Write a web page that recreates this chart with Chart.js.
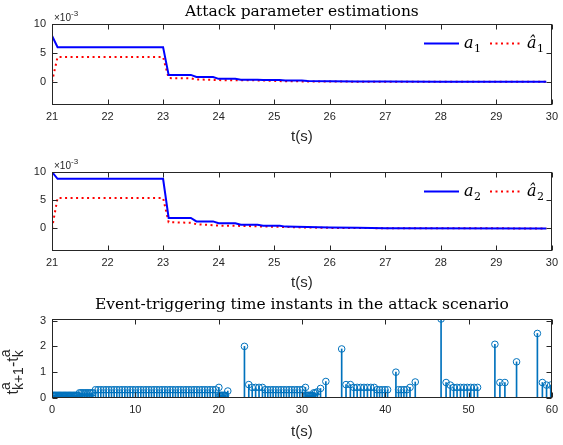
<!DOCTYPE html>
<html>
<head>
<meta charset="utf-8">
<script src="https://cdn.jsdelivr.net/npm/chart.js@4.4.0/dist/chart.umd.min.js"></script>
<style>
  html, body { margin: 0; padding: 0; background: #fff; }
  #wrap { position: relative; width: 563px; height: 445px; overflow: hidden; }
  canvas { position: absolute; left: 0; }
</style>
</head>
<body>
<div id="wrap">
  <canvas id="estChart1" width="563" height="150" style="top:0px"></canvas>
  <canvas id="estChart2" width="563" height="145" style="top:150px"></canvas>
  <canvas id="eventChart" width="563" height="150" style="top:295px"></canvas>
</div>
<script>
// ---- tick labels
const estXTicks = [21, 22, 23, 24, 25, 26, 27, 28, 29, 30];
const estYTicks = [0, 5, 10];
const eventXTicks = [0, 10, 20, 30, 40, 50, 60];
const eventYTicks = [0, 1, 2, 3];

// ---- attack parameter estimations (values in units of 1e-3)
const a1Time = [21.0, 21.1, 23.0, 23.1, 23.5, 23.6, 23.9, 24.0, 24.3, 24.4, 24.7, 24.8, 25.1, 25.2, 25.5, 25.6, 26.0, 26.5, 27.0, 28.0, 29.9];
const a1Vals = [8.0, 6.0, 6.0, 1.2, 1.2, 0.83, 0.83, 0.52, 0.52, 0.38, 0.38, 0.3, 0.3, 0.22, 0.22, 0.16, 0.12, 0.08, 0.06, 0.03, 0.0];
const a1hatTime = [21.0, 21.1, 23.0, 23.1, 23.5, 23.6, 24.0, 24.8, 25.2, 26.0, 27.0, 29.9];
const a1hatVals = [0.0, 4.3, 4.3, 0.65, 0.6, 0.42, 0.3, 0.25, 0.1, 0.05, 0.02, 0.0];

const a2Time = [21.0, 21.1, 23.0, 23.1, 23.5, 23.6, 23.9, 24.0, 24.3, 24.4, 24.7, 24.8, 25.1, 25.2, 25.6, 26.0, 26.5, 27.0, 29.9];
const a2Vals = [10.0, 8.8, 8.8, 1.85, 1.85, 1.25, 1.25, 0.92, 0.92, 0.65, 0.65, 0.47, 0.47, 0.32, 0.25, 0.15, 0.1, 0.05, 0.0];
const a2hatTime = [21.0, 21.1, 23.0, 23.1, 23.5, 23.6, 24.0, 24.4, 24.8, 25.5, 26.0, 27.0, 29.9];
const a2hatVals = [0.0, 5.4, 5.4, 1.1, 1.0, 0.75, 0.5, 0.45, 0.35, 0.18, 0.1, 0.04, 0.0];

// ---- event-triggering instants: time and inter-event gap
const eventTime = [
  0.1, 0.2, 0.3, 0.4, 0.5, 0.6, 0.7, 0.8, 0.9, 1.0, 1.1, 1.2, 1.3, 1.4, 1.5, 1.6,
  1.7, 1.8, 1.9, 2.0, 2.1, 2.2, 2.3, 2.4, 2.5, 2.6, 2.7, 2.8, 2.9, 3.0, 3.1,
  3.3, 3.5, 3.7, 3.9, 4.1, 4.3, 4.5, 4.7, 4.9,
  5.22, 5.54, 5.86, 6.18, 6.5, 6.82, 7.14, 7.46, 7.78, 8.1, 8.42, 8.74, 9.06, 9.38,
  9.7, 10.02, 10.34, 10.66, 10.98, 11.3, 11.62, 11.94, 12.26, 12.58, 12.9, 13.22,
  13.54, 13.86, 14.18, 14.5, 14.82, 15.14, 15.46, 15.78, 16.1, 16.42, 16.74, 17.06,
  17.38, 17.7, 18.02, 18.34, 18.66, 18.98, 19.3, 19.62,
  20.03, 20.13, 20.23, 20.33, 20.43, 20.53, 20.63, 20.73, 20.83, 21.1,
  23.1, 23.62, 24.03, 24.44, 24.85, 25.26,
  25.58, 25.9, 26.22, 26.54, 26.86, 27.18, 27.5, 27.82, 28.14, 28.46, 28.78, 29.1,
  29.42, 29.74, 30.06,
  30.42, 30.52, 30.62, 30.72, 30.82, 30.92, 31.02, 31.12, 31.22, 31.42, 31.62, 31.86,
  32.23, 32.87, 34.77, 35.29, 35.81,
  36.22, 36.63, 37.04, 37.45, 37.86, 38.27, 38.68,
  39.0, 39.32, 39.64, 39.96, 40.28,
  41.28, 41.6, 41.92, 42.24, 42.56, 42.97, 43.6, 46.7, 47.3, 47.8,
  48.21, 48.62, 49.03, 49.44, 49.85, 50.26, 50.67, 51.08,
  53.16, 53.76, 54.36, 55.76, 58.26, 58.86, 59.36, 59.86
];
const eventGap = [
  0.1, 0.1, 0.1, 0.1, 0.1, 0.1, 0.1, 0.1, 0.1, 0.1, 0.1, 0.1, 0.1, 0.1, 0.1, 0.1,
  0.1, 0.1, 0.1, 0.1, 0.1, 0.1, 0.1, 0.1, 0.1, 0.1, 0.1, 0.1, 0.1, 0.1, 0.1,
  0.2, 0.2, 0.2, 0.2, 0.2, 0.2, 0.2, 0.2, 0.2,
  0.32, 0.32, 0.32, 0.32, 0.32, 0.32, 0.32, 0.32, 0.32, 0.32, 0.32, 0.32, 0.32, 0.32,
  0.32, 0.32, 0.32, 0.32, 0.32, 0.32, 0.32, 0.32, 0.32, 0.32, 0.32, 0.32,
  0.32, 0.32, 0.32, 0.32, 0.32, 0.32, 0.32, 0.32, 0.32, 0.32, 0.32, 0.32,
  0.32, 0.32, 0.32, 0.32, 0.32, 0.32, 0.32, 0.32,
  0.41, 0.1, 0.1, 0.1, 0.1, 0.1, 0.1, 0.1, 0.1, 0.27,
  2.0, 0.52, 0.41, 0.41, 0.41, 0.41,
  0.32, 0.32, 0.32, 0.32, 0.32, 0.32, 0.32, 0.32, 0.32, 0.32, 0.32, 0.32,
  0.32, 0.32, 0.32,
  0.41, 0.1, 0.1, 0.1, 0.1, 0.1, 0.1, 0.1, 0.1, 0.2, 0.2, 0.24,
  0.37, 0.64, 1.9, 0.52, 0.52,
  0.41, 0.41, 0.41, 0.41, 0.41, 0.41, 0.41,
  0.32, 0.32, 0.32, 0.32, 0.32,
  1.0, 0.32, 0.32, 0.32, 0.32, 0.41, 0.62, 3.06, 0.6, 0.5,
  0.41, 0.41, 0.41, 0.41, 0.41, 0.41, 0.41, 0.41,
  2.08, 0.6, 0.6, 1.4, 2.5, 0.6, 0.5, 0.5
];

const axisColor = "#262626";
const tickFont = { family: "'Liberation Sans', Arial, sans-serif", size: 11 };
const labelFont = { family: "'Liberation Sans', Arial, sans-serif", size: 15 };

const toPoints = (xs, ys) => xs.map((x, i) => ({ x: x, y: ys[i] }));

// draws box, inward ticks, title, x10^-3 note, legend and rotated y label
const decor = {
  id: "decor",
  afterDraw(chart, args, o) {
    const { ctx, chartArea: a, scales } = chart;
    const L = Math.floor(a.left) + 0.5, R = Math.ceil(a.right) - 0.5;
    const T = Math.floor(a.top) + 0.5, B = Math.ceil(a.bottom) - 0.5;
    ctx.save();
    ctx.strokeStyle = axisColor;
    ctx.lineWidth = 1;
    ctx.strokeRect(L, T, R - L, B - T);
    ctx.beginPath();
    scales.x.ticks.forEach((t) => {
      const px = Math.round(scales.x.getPixelForValue(t.value)) + 0.5;
      ctx.moveTo(px, B); ctx.lineTo(px, B - 5);
      ctx.moveTo(px, T); ctx.lineTo(px, T + 5);
    });
    scales.y.ticks.forEach((t) => {
      const py = Math.round(scales.y.getPixelForValue(t.value)) + 0.5;
      ctx.moveTo(L, py); ctx.lineTo(L + 5, py);
      ctx.moveTo(R, py); ctx.lineTo(R - 5, py);
    });
    ctx.stroke();

    if (o.title) {
      ctx.fillStyle = "#000";
      ctx.font = "15.5px 'DejaVu Serif'";
      ctx.textAlign = "center";
      ctx.textBaseline = "middle";
      ctx.fillText(o.title, (a.left + a.right) / 2, o.titleY);
    }
    if (o.exponent) {
      ctx.fillStyle = axisColor;
      ctx.textAlign = "left";
      ctx.textBaseline = "alphabetic";
      ctx.font = "10px 'Liberation Sans'";
      ctx.fillText("\u00d710", a.left + 2, a.top - 3);
      const w = ctx.measureText("\u00d710").width;
      ctx.font = "8px 'Liberation Sans'";
      ctx.fillText("-3", a.left + 2 + w, a.top - 8);
    }
    if (o.legend) {
      const y = a.top + o.legend.dy;
      ctx.lineWidth = 2;
      ctx.strokeStyle = "#0000ff";
      ctx.beginPath(); ctx.moveTo(424, y); ctx.lineTo(459, y); ctx.stroke();
      ctx.strokeStyle = "#ff0000";
      ctx.setLineDash([2, 3.5]);
      ctx.beginPath(); ctx.moveTo(490, y); ctx.lineTo(522, y); ctx.stroke();
      ctx.setLineDash([]);
      ctx.fillStyle = "#000";
      ctx.textAlign = "left";
      ctx.textBaseline = "alphabetic";
      ctx.font = "italic 16px 'DejaVu Serif'";
      ctx.fillText("a", 464, y + 4.5);
      ctx.fillText("\u00e2", 527, y + 4.5);
      ctx.font = "11px 'DejaVu Serif'";
      ctx.fillText(o.legend.sub, 474, y + 8);
      ctx.fillText(o.legend.sub, 537, y + 8);
    }
    if (o.ylabel) {
      const cy = (a.top + a.bottom) / 2;
      ctx.translate(18, cy + 36);
      ctx.rotate(-Math.PI / 2);
      ctx.fillStyle = axisColor;
      ctx.textAlign = "left";
      ctx.textBaseline = "alphabetic";
      const big = "16px 'Liberation Sans'", small = "14px 'Liberation Sans'";
      let u = 0;
      ctx.font = big; ctx.fillText("t", u, 0); u += ctx.measureText("t").width;
      ctx.font = small;
      ctx.fillText("a", u, -8);
      ctx.fillText("k+1", u, 5);
      u += ctx.measureText("k+1").width;
      ctx.font = big; ctx.fillText("-t", u, 0); u += ctx.measureText("-t").width;
      ctx.font = small;
      ctx.fillText("a", u, -8);
      ctx.fillText("k", u, 5);
    }
    ctx.restore();
  }
};

function fixTicks(list) {
  return (scale) => { scale.ticks = list.map((v) => ({ value: v })); };
}

function axes(xMin, xMax, xTicks, yMin, yMax, yTicks, xHeight, titlePad) {
  return {
    x: {
      type: "linear", min: xMin, max: xMax, offset: false,
      grid: { display: false, drawTicks: false, offset: false },
      border: { display: false },
      afterBuildTicks: fixTicks(xTicks),
      afterFit: (s) => { s.height = xHeight; },
      ticks: { color: axisColor, font: tickFont, padding: 5, maxRotation: 0 },
      title: { display: true, text: "t(s)", color: axisColor, font: labelFont, padding: { top: 0, bottom: titlePad } }
    },
    y: {
      type: "linear", min: yMin, max: yMax,
      grid: { display: false, drawTicks: false },
      border: { display: false },
      afterBuildTicks: fixTicks(yTicks),
      afterFit: (s) => { s.width = 52; },
      ticks: { color: axisColor, font: tickFont, padding: 6 }
    }
  };
}

function estimationChart(canvasId, tA, vA, tH, vH, sub, padTop, xHeight, titlePad, title) {
  const ctx = document.getElementById(canvasId).getContext("2d");
  return new Chart(ctx, {
    type: "line",
    data: {
      datasets: [
        { data: toPoints(tA, vA), borderColor: "#0000ff", borderWidth: 2, pointRadius: 0, tension: 0 },
        { data: toPoints(tH, vH), borderColor: "#ff0000", borderWidth: 2, borderDash: [2, 3.5], pointRadius: 0, tension: 0 }
      ]
    },
    options: {
      responsive: false,
      animation: false,
      layout: { padding: { top: padTop, right: 5, left: 0, bottom: 0 } },
      scales: axes(21, 30, estXTicks, -4, 10, estYTicks, xHeight, titlePad),
      plugins: {
        legend: { display: false },
        tooltip: { enabled: false },
        decor: { title: title, titleY: 11.5, exponent: true, legend: { dy: 19.5, sub: sub } }
      }
    },
    plugins: [decor]
  });
}

estimationChart("estChart1", a1Time, a1Vals, a1hatTime, a1hatVals, "1", 24, 45, 4, "Attack parameter estimations");
estimationChart("estChart2", a2Time, a2Vals, a2hatTime, a2hatVals, "2", 22, 44, 3, null);

// stem plot of inter-event times
new Chart(document.getElementById("eventChart").getContext("2d"), {
  type: "scatter",
  data: {
    datasets: [
      {
        type: "scatter",
        data: toPoints(eventTime, eventGap),
        pointStyle: "circle",
        pointRadius: 3.3,
        pointBackgroundColor: "rgba(0,0,0,0)",
        pointBorderColor: "#0072bd",
        pointBorderWidth: 1,
        order: 0
      },
      {
        type: "bar",
        data: toPoints(eventTime, eventGap),
        backgroundColor: "#0072bd",
        borderWidth: 0,
        barThickness: 1,
        order: 1
      }
    ]
  },
  options: {
    responsive: false,
    animation: false,
    layout: { padding: { top: 24, right: 5, left: 0, bottom: 0 } },
    scales: axes(0, 60, eventXTicks, 0, 3.06, eventYTicks, 47, 4),
    plugins: {
      legend: { display: false },
      tooltip: { enabled: false },
      decor: { title: "Event-triggering time instants in the attack scenario", titleY: 10, ylabel: true }
    }
  },
  plugins: [decor]
});
</script>
</body>
</html>
